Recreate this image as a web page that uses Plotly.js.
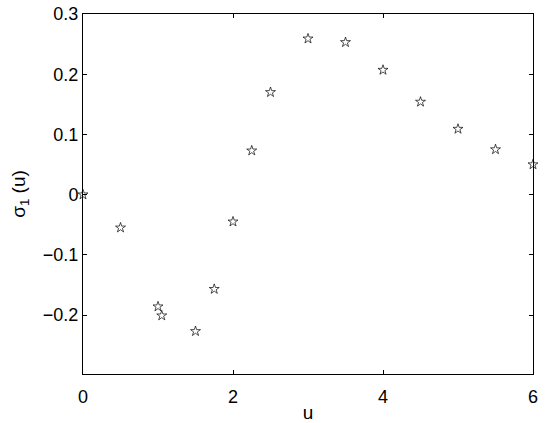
<!DOCTYPE html>
<html><head><meta charset="utf-8">
<script src="https://cdn.plot.ly/plotly-3.0.1.min.js"></script>
<style>html,body{margin:0;padding:0;background:#fff}</style>
</head><body>
<div id="chart" style="width:545px;height:423px"></div>
<script>
const u = [0, 0.5, 1.0, 1.05, 1.5, 1.75, 2.0, 2.25, 2.5, 3.0, 3.5, 4.0, 4.5, 5.0, 5.5, 6.0];
const sigma1 = [0, -0.055, -0.186, -0.201, -0.227, -0.157, -0.045, 0.073, 0.170, 0.259, 0.253, 0.207, 0.154, 0.109, 0.075, 0.050];
const xTicks = [0, 2, 4, 6];
const yTicks = [-0.2, -0.1, 0, 0.1, 0.2, 0.3];
const yTickText = ['\u22120.2', '\u22120.1', '0', '0.1', '0.2', '0.3'];

const font = {family: 'Liberation Sans, Arial, Helvetica, sans-serif', size: 18, color: '#000'};
const titleFont = {family: 'Liberation Sans, Arial, Helvetica, sans-serif', size: 19, color: '#000'};
Plotly.newPlot('chart', [{
  x: u, y: sigma1, type: 'scatter', mode: 'markers',
  marker: {symbol: 'star-open', size: 7.5, color: '#000', line: {width: 0.7, color: '#000'}},
  cliponaxis: false
}], {
  width: 545, height: 423,
  margin: {l: 83, r: 12, t: 14, b: 49},
  paper_bgcolor: '#fff', plot_bgcolor: '#fff',
  font: font,
  showlegend: false,
  xaxis: {
    range: [0, 6], tickvals: xTicks, ticktext: xTicks.map(String),
    ticks: 'inside', ticklen: 4, tickcolor: '#000', mirror: 'ticks',
    showline: true, linecolor: '#000', linewidth: 1, showgrid: false, zeroline: false,
    ticklabelstandoff: 6,
    tickfont: font, title: {text: 'u', font: titleFont, standoff: 0}
  },
  yaxis: {
    range: [-0.298, 0.3], tickvals: yTicks, ticktext: yTickText,
    ticks: 'inside', ticklen: 4, tickcolor: '#000', mirror: 'ticks',
    showline: true, linecolor: '#000', linewidth: 1, showgrid: false, zeroline: false,
    tickfont: font, title: {text: '\u03c3<sub>1</sub> (u)', font: titleFont, standoff: 12}
  }
}, {displayModeBar: false, staticPlot: true});
</script>
</body></html>
